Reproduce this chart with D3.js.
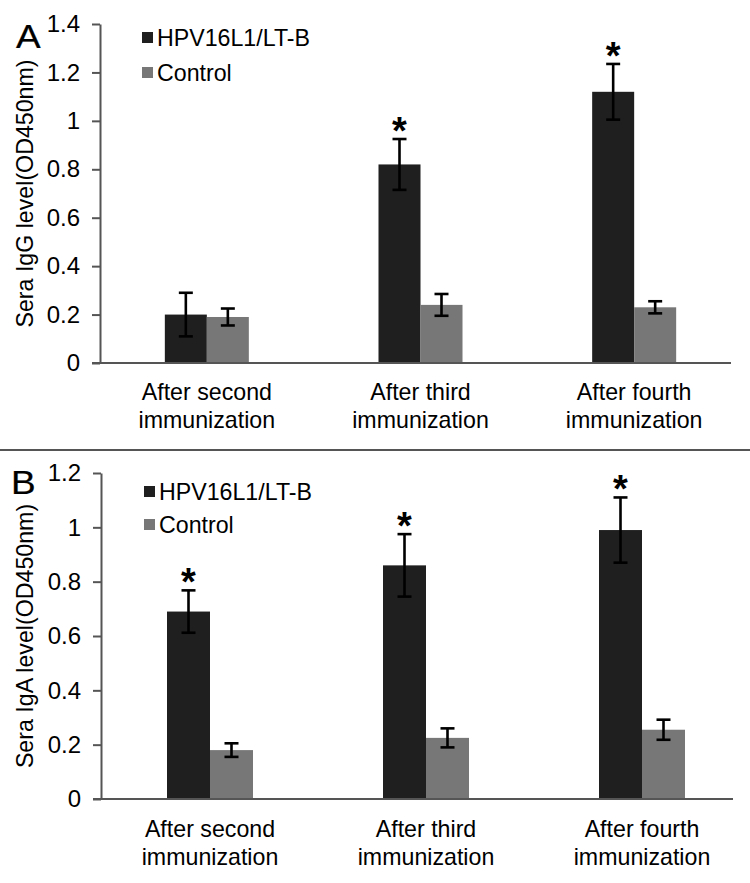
<!DOCTYPE html>
<html>
<head>
<meta charset="utf-8">
<script src="https://cdn.jsdelivr.net/npm/d3@7"></script>
<style>
  html, body { margin: 0; padding: 0; background: #fff; }
  svg { display: block; font-family: "Liberation Sans", Arial, sans-serif; }
</style>
</head>
<body>
<svg id="chart" width="750" height="883"></svg>
<script>
// ---------------- data ----------------
const categories = ["After second immunization", "After third immunization", "After fourth immunization"];
const seriesNames = ["HPV16L1/LT-B", "Control"];

const iggVaccine     = [0.20, 0.82, 1.12];
const iggVaccineErr  = [0.09, 0.105, 0.115];
const iggControl     = [0.19, 0.24, 0.23];
const iggControlErr  = [0.035, 0.045, 0.025];
const iggSignificant = [false, true, true];
const iggTicks       = [0, 0.2, 0.4, 0.6, 0.8, 1.0, 1.2, 1.4];

const igaVaccine     = [0.69, 0.86, 0.99];
const igaVaccineErr  = [0.078, 0.115, 0.12];
const igaControl     = [0.18, 0.225, 0.255];
const igaControlErr  = [0.025, 0.035, 0.037];
const igaSignificant = [true, true, true];
const igaTicks       = [0, 0.2, 0.4, 0.6, 0.8, 1.0, 1.2];

// ---------------- styles ----------------
const colors = ["#1f1f1f", "#777777"];
const axisColor = "#555555";
const fontSize = 23.2;
const tickFontSize = 24;

const svg = d3.select("#chart");

function drawPanel(cfg) {
  const g = svg.append("g");
  const y = d3.scaleLinear().domain([0, d3.max(cfg.ticks)]).range([cfg.bottom, cfg.top]);
  const x = d3.scaleBand().domain(categories).range(cfg.bandRange).padding(0);
  const sub = d3.scaleBand().domain(seriesNames)
    .range([-cfg.barW, cfg.barW]).padding(0);

  const rows = categories.map((c, i) => ({
    cat: c,
    sig: cfg.sig[i],
    vals: [
      { s: seriesNames[0], v: cfg.vac[i], e: cfg.vacErr[i] },
      { s: seriesNames[1], v: cfg.ctl[i], e: cfg.ctlErr[i] }
    ]
  }));

  // y axis
  const yAxis = d3.axisLeft(y)
    .tickValues(cfg.ticks)
    .tickSize(8)
    .tickSizeOuter(0)
    .tickPadding(12)
    .tickFormat(d => String(+d.toFixed(1)));
  const ya = g.append("g").attr("transform", `translate(${cfg.axisX},0)`).call(yAxis);
  ya.attr("font-family", null).attr("font-size", null);
  ya.select(".domain").attr("stroke", axisColor).attr("stroke-width", 2);
  ya.selectAll(".tick line").attr("stroke", axisColor).attr("stroke-width", 2);
  ya.selectAll(".tick text")
    .attr("fill", "#000")
    .style("font-size", tickFontSize + "px");

  // bars
  const groups = g.selectAll(".grp").data(rows).enter().append("g")
    .attr("transform", d => `translate(${x(d.cat) + x.bandwidth() / 2},0)`);

  groups.selectAll("rect").data(d => d.vals).enter().append("rect")
    .attr("x", d => sub(d.s))
    .attr("width", sub.bandwidth())
    .attr("y", d => y(d.v))
    .attr("height", d => y(0) - y(d.v))
    .attr("fill", (d, i) => colors[i]);

  // x axis line
  g.append("line")
    .attr("x1", cfg.axisX - 8).attr("x2", cfg.axisEnd)
    .attr("y1", y(0)).attr("y2", y(0))
    .attr("stroke", axisColor).attr("stroke-width", 2);

  // error bars
  const eb = groups.selectAll(".err").data(d => d.vals).enter().append("g")
    .attr("stroke", "#000").attr("stroke-width", 2.6);
  const cx = d => sub(d.s) + sub.bandwidth() / 2;
  eb.append("line")
    .attr("x1", cx).attr("x2", cx)
    .attr("y1", d => y(d.v + d.e)).attr("y2", d => y(d.v - d.e));
  eb.append("line")
    .attr("x1", d => cx(d) - 7).attr("x2", d => cx(d) + 7)
    .attr("y1", d => y(d.v + d.e)).attr("y2", d => y(d.v + d.e));
  eb.append("line")
    .attr("x1", d => cx(d) - 7).attr("x2", d => cx(d) + 7)
    .attr("y1", d => y(d.v - d.e)).attr("y2", d => y(d.v - d.e));

  // significance stars
  const starFs = 38;
  groups.filter(d => d.sig).append("text")
    .attr("x", d => cx(d.vals[0]))
    .attr("y", d => y(d.vals[0].v + d.vals[0].e) - 15 + 0.52 * starFs)
    .attr("text-anchor", "middle")
    .style("font-size", starFs + "px")
    .style("font-weight", "bold")
    .text("*");

  // category labels (two lines)
  const lab = groups.append("text")
    .attr("text-anchor", "middle")
    .style("font-size", fontSize + "px");
  lab.append("tspan").attr("x", 0).attr("y", cfg.labelY)
    .text(d => d.cat.slice(0, d.cat.lastIndexOf(" ")));
  lab.append("tspan").attr("x", 0).attr("y", cfg.labelY + 28)
    .text(d => d.cat.slice(d.cat.lastIndexOf(" ") + 1));

  // y title
  g.append("text")
    .attr("transform", `translate(${cfg.titleX},${(cfg.top + cfg.bottom) / 2}) rotate(-90)`)
    .attr("text-anchor", "middle")
    .style("font-size", fontSize + "px")
    .text(cfg.title);

  // legend
  const lg = g.selectAll(".leg").data(seriesNames).enter().append("g")
    .attr("transform", (d, i) => `translate(${cfg.legX},${cfg.legY + i * cfg.legStep})`);
  lg.append("rect").attr("x", 0).attr("y", -14).attr("width", 11).attr("height", 11)
    .attr("fill", (d, i) => colors[i]);
  lg.append("text").attr("x", 15).attr("y", 0)
    .style("font-size", fontSize + "px").text(d => d);

  // panel letter
  g.append("text")
    .attr("transform", `translate(${cfg.letterX},${cfg.letterY}) scale(1.12,1)`)
    .style("font-size", "33px")
    .style("stroke", "#000").style("stroke-width", 0.25)
    .text(cfg.letter);
}

drawPanel({
  letter: "A", letterX: 16, letterY: 48,
  title: "Sera IgG level(OD450nm)", titleX: 33,
  top: 24, bottom: 363, axisX: 100, axisEnd: 731,
  bandRange: [100, 741], barW: 42,
  ticks: iggTicks, vac: iggVaccine, vacErr: iggVaccineErr,
  ctl: iggControl, ctlErr: iggControlErr, sig: iggSignificant,
  labelY: 400, legX: 142, legY: 46, legStep: 35
});

drawPanel({
  letter: "B", letterX: 11, letterY: 494,
  title: "Sera IgA level(OD450nm)", titleX: 33,
  top: 473, bottom: 799, axisX: 101, axisEnd: 733,
  bandRange: [102, 750], barW: 43,
  ticks: igaTicks, vac: igaVaccine, vacErr: igaVaccineErr,
  ctl: igaControl, ctlErr: igaControlErr, sig: igaSignificant,
  labelY: 837, legX: 144, legY: 500, legStep: 33
});

// separator between panels
svg.append("line")
  .attr("x1", 0).attr("x2", 750).attr("y1", 450).attr("y2", 450)
  .attr("stroke", axisColor).attr("stroke-width", 2);
</script>
</body>
</html>
